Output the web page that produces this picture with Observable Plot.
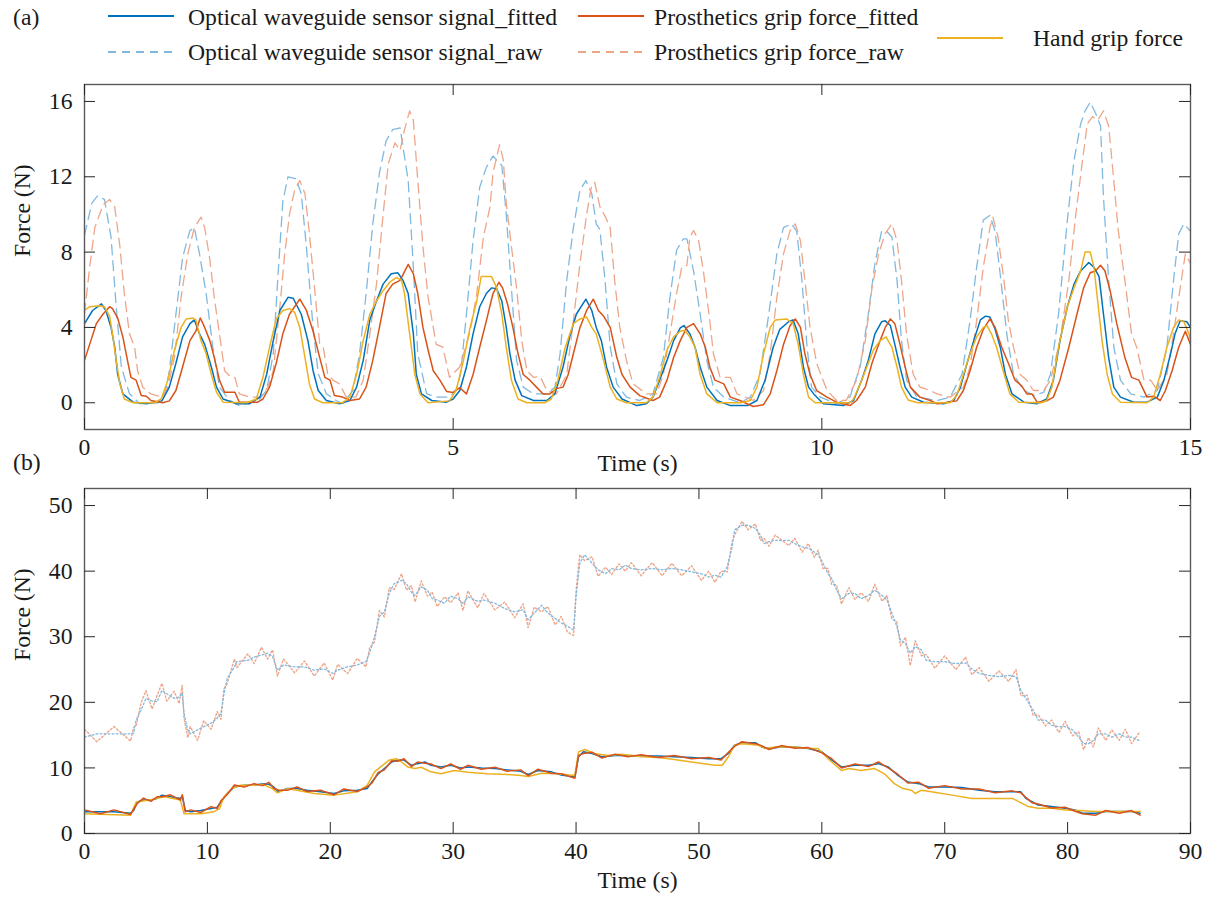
<!DOCTYPE html>
<html><head><meta charset="utf-8">
<script src="https://cdn.jsdelivr.net/npm/d3@7"></script>
<script src="https://cdn.jsdelivr.net/npm/@observablehq/plot@0.6"></script>
<style>
body{margin:0;background:#fff;}
#root{position:relative;width:1205px;height:902px;font-family:"Liberation Serif","Times New Roman",serif;color:#1a1a1a;overflow:hidden;background:#fff}
.t{position:absolute;font-size:23.7px;line-height:1;white-space:nowrap;transform:translateY(-50%)}
.sw{position:absolute;transform:translateY(-50%)}
.panel{position:absolute;left:0}
</style></head><body><div id="root"></div>
<script>
// ---------- Panel (a): 0-15 s, [time, force] ----------
const aBlueRaw = [[0,8.9],[0.1,10.6],[0.18,11.0],[0.27,10.8],[0.36,8.8],[0.43,5.1],[0.5,1.9],[0.61,0.48],[0.75,-0.05],[1.0,0.0],[1.1,0.6],[1.15,1.7],[1.24,4.7],[1.33,7.7],[1.43,9.15],[1.49,9.3],[1.56,7.9],[1.65,5.8],[1.74,2.95],[1.83,0.83],[1.97,0.12],[2.1,-0.15],[2.35,0.1],[2.47,0.65],[2.56,2.6],[2.62,6.5],[2.69,10.7],[2.76,12.0],[2.87,11.9],[2.94,11.1],[3.01,8.26],[3.1,4.0],[3.17,1.54],[3.28,0.48],[3.41,0.12],[3.5,-0.05],[3.64,0.65],[3.73,2.6],[3.82,5.8],[3.91,9.5],[4.0,12.2],[4.09,13.9],[4.18,14.5],[4.28,14.6],[4.39,11.8],[4.46,7.2],[4.52,2.6],[4.64,0.48],[4.77,0.3],[4.95,0.3],[5.04,0.7],[5.1,1.5],[5.18,4.7],[5.27,8.6],[5.36,11.45],[5.45,12.5],[5.54,13.1],[5.66,12.6],[5.72,10.0],[5.79,6.1],[5.86,2.25],[5.95,0.83],[6.09,0.47],[6.27,0.47],[6.38,0.83],[6.45,2.6],[6.54,6.5],[6.63,9.3],[6.72,11.3],[6.8,11.8],[6.88,11.1],[6.94,9.5],[6.99,9.2],[7.06,6.5],[7.13,2.95],[7.22,1.0],[7.35,0.3],[7.53,0.12],[7.71,0.47],[7.85,2.4],[7.94,5.6],[8.03,8.1],[8.12,8.7],[8.17,8.7],[8.26,7.0],[8.35,4.7],[8.44,2.25],[8.53,0.83],[8.67,0.3],[8.89,0.0],[9.03,0.3],[9.16,1.5],[9.28,4.7],[9.39,7.9],[9.48,9.3],[9.59,9.5],[9.66,9.1],[9.73,6.5],[9.8,2.95],[9.86,0.83],[9.98,0.3],[10.2,-0.05],[10.38,0.3],[10.52,1.9],[10.63,4.7],[10.72,7.4],[10.81,9.1],[10.88,9.1],[10.95,8.8],[11.02,6.5],[11.08,3.3],[11.15,1.2],[11.29,0.3],[11.56,0.12],[11.74,0.3],[11.9,1.5],[12.01,4.35],[12.1,7.2],[12.19,9.7],[12.28,9.95],[12.35,9.1],[12.42,6.8],[12.51,3.6],[12.6,1.5],[12.74,0.65],[12.88,0.38],[13.01,0.56],[13.1,1.5],[13.21,4.7],[13.33,9.7],[13.42,12.87],[13.51,14.8],[13.57,15.5],[13.64,15.96],[13.71,15.4],[13.78,14.7],[13.82,10.9],[13.89,6.5],[13.96,2.95],[14.05,1.2],[14.19,0.47],[14.37,0.3],[14.55,0.65],[14.68,2.95],[14.77,6.5],[14.84,8.97],[14.91,9.5],[15,9.1]];
const aRedRaw = [[0,4.73],[0.07,7.2],[0.14,9.3],[0.25,10.5],[0.34,10.8],[0.41,10.4],[0.48,8.3],[0.54,5.8],[0.61,3.66],[0.68,2.95],[0.72,1.7],[0.79,0.83],[0.9,0.47],[1.05,0.3],[1.13,0.83],[1.22,2.4],[1.31,5.6],[1.4,7.9],[1.49,9.3],[1.58,9.86],[1.63,9.3],[1.7,7.6],[1.76,5.6],[1.83,3.66],[1.9,1.7],[1.99,1.35],[2.04,1.35],[2.1,0.47],[2.24,0.3],[2.38,0.3],[2.49,0.83],[2.56,1.7],[2.65,5.1],[2.71,7.7],[2.78,10.0],[2.85,11.3],[2.92,11.8],[2.99,11.1],[3.05,9.0],[3.12,6.1],[3.19,3.1],[3.24,2.9],[3.3,1.5],[3.37,1.2],[3.46,1.0],[3.55,0.3],[3.68,0.3],[3.78,1.2],[3.87,3.66],[3.96,6.3],[4.05,10.0],[4.12,12.7],[4.21,13.8],[4.28,13.4],[4.34,14.5],[4.41,15.5],[4.46,15.0],[4.52,11.8],[4.59,8.3],[4.66,5.6],[4.77,3.1],[4.86,2.95],[4.95,1.35],[5.09,1.9],[5.23,3.8],[5.32,5.8],[5.41,8.8],[5.5,10.4],[5.54,12.2],[5.63,13.7],[5.68,12.9],[5.72,10.6],[5.79,8.3],[5.86,6.1],[5.93,3.3],[6.0,1.7],[6.09,1.35],[6.18,1.4],[6.27,0.65],[6.4,0.47],[6.54,1.5],[6.63,4.35],[6.72,7.4],[6.81,10.0],[6.88,11.6],[6.92,11.7],[6.99,10.4],[7.06,9.9],[7.13,9.3],[7.19,6.5],[7.26,4.0],[7.35,2.25],[7.44,1.0],[7.62,0.47],[7.76,0.47],[7.85,1.5],[7.94,3.66],[8.03,5.8],[8.1,7.2],[8.17,7.3],[8.21,8.8],[8.26,9.15],[8.33,8.6],[8.4,6.8],[8.47,4.7],[8.53,2.6],[8.62,1.35],[8.76,1.35],[8.85,0.47],[9.07,0.12],[9.21,0.65],[9.3,2.6],[9.39,5.6],[9.48,7.9],[9.57,9.15],[9.64,9.5],[9.71,8.6],[9.77,6.5],[9.84,4.0],[9.93,2.1],[10.07,0.65],[10.2,0.12],[10.33,0.12],[10.47,1.2],[10.59,3.3],[10.68,6.1],[10.77,7.9],[10.86,9.0],[10.95,9.5],[11.02,8.6],[11.08,6.5],[11.15,3.6],[11.24,1.5],[11.33,0.83],[11.47,0.65],[11.56,0.47],[11.74,0.3],[11.92,0.83],[12.01,1.9],[12.1,4.35],[12.19,7.2],[12.28,9.3],[12.32,9.86],[12.39,8.8],[12.47,6.5],[12.53,4.35],[12.6,2.95],[12.69,1.5],[12.78,1.2],[12.87,0.65],[13.01,0.65],[13.1,1.2],[13.23,3.3],[13.35,6.5],[13.44,9.86],[13.53,12.7],[13.6,14.8],[13.67,15.2],[13.74,15.0],[13.82,15.5],[13.89,14.7],[13.96,11.8],[14.02,9.15],[14.11,6.5],[14.2,3.66],[14.27,2.95],[14.37,1.2],[14.46,1.2],[14.55,0.65],[14.68,1.5],[14.77,3.66],[14.86,6.1],[14.93,7.9],[15,7.4]];
const aBlueFit = [[0,4.2],[0.11,4.9],[0.23,5.25],[0.29,4.9],[0.36,4.0],[0.41,2.95],[0.45,1.5],[0.52,0.47],[0.66,0.03],[0.84,-0.05],[1.05,0.1],[1.15,0.83],[1.24,2.1],[1.33,3.5],[1.43,4.2],[1.49,4.4],[1.56,3.66],[1.63,3.1],[1.72,1.9],[1.79,0.83],[1.88,0.2],[2.06,-0.05],[2.24,-0.05],[2.38,0.3],[2.47,1.5],[2.56,3.3],[2.65,4.9],[2.76,5.6],[2.83,5.55],[2.94,4.7],[3.03,3.3],[3.1,1.7],[3.17,0.65],[3.28,0.12],[3.46,-0.05],[3.6,0.12],[3.69,0.83],[3.78,2.25],[3.87,4.4],[3.96,5.4],[4.05,6.3],[4.16,6.85],[4.25,6.9],[4.32,6.5],[4.39,5.8],[4.46,3.66],[4.5,1.5],[4.57,0.47],[4.71,0.12],[4.91,0.03],[5.0,0.2],[5.09,0.65],[5.18,1.9],[5.27,3.66],[5.36,5.1],[5.45,5.8],[5.52,6.1],[5.59,6.05],[5.66,5.4],[5.72,4.0],[5.77,2.6],[5.84,1.2],[5.93,0.38],[6.09,0.12],[6.27,0.12],[6.38,0.47],[6.49,1.9],[6.58,3.5],[6.67,4.7],[6.8,5.5],[6.88,4.9],[6.94,4.0],[7.01,3.3],[7.08,1.9],[7.17,0.83],[7.29,0.2],[7.49,-0.15],[7.62,-0.05],[7.71,0.3],[7.8,1.2],[7.9,2.25],[7.99,3.3],[8.08,3.98],[8.13,4.1],[8.21,3.66],[8.28,2.95],[8.35,1.9],[8.44,0.83],[8.58,0.12],[8.76,-0.15],[8.99,-0.15],[9.12,0.12],[9.23,1.2],[9.34,2.95],[9.43,3.9],[9.55,4.3],[9.61,4.4],[9.68,3.66],[9.75,1.9],[9.82,0.83],[9.89,0.47],[10.02,-0.05],[10.29,-0.15],[10.43,0.12],[10.54,1.2],[10.63,2.25],[10.72,3.66],[10.81,4.3],[10.86,4.35],[10.93,4.1],[10.99,3.1],[11.06,1.9],[11.13,0.83],[11.22,0.3],[11.38,0.03],[11.65,-0.05],[11.79,0.12],[11.88,0.83],[11.97,2.1],[12.06,3.3],[12.15,4.4],[12.22,4.6],[12.28,4.55],[12.35,3.9],[12.42,2.95],[12.49,1.5],[12.58,0.47],[12.74,0.03],[12.92,-0.05],[13.05,0.2],[13.14,1.2],[13.23,3.3],[13.33,5.1],[13.42,6.3],[13.51,7.0],[13.62,7.45],[13.69,7.2],[13.76,6.7],[13.82,4.7],[13.89,2.4],[13.96,0.83],[14.05,0.3],[14.23,0.03],[14.41,0.03],[14.55,0.3],[14.64,1.2],[14.73,2.6],[14.79,3.66],[14.86,4.35],[14.95,4.3],[15,4.0]];
const aRedFit = [[0,2.25],[0.07,3.1],[0.16,4.2],[0.25,4.7],[0.34,5.1],[0.38,5.0],[0.45,4.5],[0.52,3.5],[0.59,2.1],[0.63,1.35],[0.7,1.2],[0.77,0.38],[0.84,0.35],[0.9,0.12],[1.06,0.0],[1.15,0.1],[1.24,0.65],[1.33,1.9],[1.43,3.3],[1.51,3.8],[1.57,4.5],[1.63,4.0],[1.7,3.3],[1.76,2.4],[1.83,1.2],[1.9,0.56],[2.04,0.56],[2.1,0.03],[2.35,0.03],[2.42,0.2],[2.51,0.83],[2.6,2.1],[2.69,3.66],[2.78,4.7],[2.92,5.5],[3.01,4.9],[3.1,3.8],[3.19,2.4],[3.26,1.35],[3.33,1.2],[3.39,0.38],[3.5,0.3],[3.6,0.12],[3.73,0.2],[3.82,0.83],[3.91,2.25],[4.0,4.0],[4.09,5.8],[4.18,6.3],[4.28,6.5],[4.39,7.35],[4.46,6.85],[4.52,5.8],[4.59,4.0],[4.66,2.8],[4.73,1.7],[4.82,1.2],[4.91,0.6],[5.0,0.55],[5.09,0.8],[5.18,0.47],[5.27,1.5],[5.36,2.95],[5.45,4.35],[5.54,5.8],[5.62,6.4],[5.67,6.1],[5.74,5.2],[5.81,4.0],[5.88,2.6],[5.95,1.5],[6.04,1.2],[6.13,0.83],[6.22,0.47],[6.31,0.47],[6.4,0.75],[6.49,0.83],[6.56,1.5],[6.63,2.6],[6.72,4.0],[6.81,4.9],[6.9,5.5],[6.97,4.9],[7.04,4.6],[7.13,4.0],[7.22,2.4],[7.29,1.5],[7.4,0.83],[7.53,0.38],[7.71,0.12],[7.8,0.3],[7.9,1.2],[7.99,2.4],[8.08,3.3],[8.17,4.0],[8.26,4.2],[8.35,3.66],[8.42,2.95],[8.48,1.9],[8.55,1.2],[8.67,1.0],[8.76,0.3],[8.89,0.12],[9.07,-0.2],[9.21,-0.1],[9.3,0.47],[9.39,1.7],[9.48,3.1],[9.57,4.1],[9.64,4.45],[9.71,4.0],[9.77,2.6],[9.84,1.5],[9.93,0.65],[10.07,0.3],[10.2,0.03],[10.38,-0.15],[10.47,0.12],[10.59,0.83],[10.68,2.1],[10.77,3.1],[10.86,4.0],[10.93,4.45],[10.99,4.2],[11.06,3.1],[11.13,1.9],[11.2,0.83],[11.33,0.3],[11.47,0.12],[11.56,-0.05],[11.83,0.1],[11.92,0.65],[12.01,1.7],[12.1,2.95],[12.19,3.9],[12.28,4.45],[12.35,4.0],[12.44,2.95],[12.53,2.1],[12.62,1.2],[12.71,0.9],[12.78,0.47],[12.85,0.47],[12.92,0.03],[13.05,0.1],[13.14,0.3],[13.23,1.2],[13.35,2.95],[13.46,4.7],[13.55,6.1],[13.64,6.9],[13.71,7.0],[13.78,7.3],[13.84,7.0],[13.91,5.95],[14.0,4.2],[14.11,2.4],[14.2,1.35],[14.3,1.2],[14.41,0.3],[14.5,0.35],[14.59,0.12],[14.66,0.65],[14.75,1.7],[14.84,2.95],[14.93,3.8],[15,3.1]];
const aHand = [[0,4.9],[0.07,5.1],[0.2,5.15],[0.27,5.1],[0.34,4.6],[0.38,3.66],[0.43,2.25],[0.48,1.0],[0.54,0.2],[0.66,0.0],[0.95,0.0],[1.04,0.2],[1.13,1.2],[1.22,2.8],[1.31,4.0],[1.38,4.45],[1.47,4.5],[1.51,4.4],[1.58,3.3],[1.65,2.6],[1.72,1.5],[1.79,0.56],[1.88,0.03],[2.2,0.0],[2.33,0.2],[2.42,1.35],[2.51,2.95],[2.6,4.45],[2.69,4.9],[2.78,5.0],[2.85,4.8],[2.92,4.0],[2.99,2.4],[3.05,1.0],[3.12,0.2],[3.23,0.0],[3.5,0.0],[3.6,0.3],[3.69,1.5],[3.78,3.3],[3.87,4.7],[3.96,5.4],[4.05,5.95],[4.14,6.4],[4.23,6.65],[4.3,6.5],[4.34,5.8],[4.41,3.66],[4.48,1.5],[4.55,0.47],[4.66,0.0],[4.95,0.1],[5.04,0.65],[5.14,2.25],[5.23,4.0],[5.32,5.4],[5.38,6.7],[5.52,6.7],[5.59,6.1],[5.66,4.7],[5.72,2.95],[5.79,1.2],[5.88,0.2],[6.0,0.0],[6.24,0.0],[6.33,0.2],[6.42,1.2],[6.52,2.95],[6.63,4.2],[6.72,4.45],[6.81,4.55],[6.88,4.0],[6.94,3.66],[7.04,2.25],[7.13,0.83],[7.22,0.2],[7.35,0.0],[7.62,0.0],[7.71,0.3],[7.8,1.35],[7.9,2.8],[7.99,3.5],[8.08,3.8],[8.14,3.85],[8.21,3.5],[8.28,2.95],[8.35,1.5],[8.44,0.47],[8.58,0.0],[8.9,0.0],[9.03,0.12],[9.12,0.83],[9.21,2.6],[9.3,4.0],[9.37,4.4],[9.52,4.45],[9.61,4.2],[9.68,3.1],[9.75,1.5],[9.82,0.3],[9.91,0.0],[10.38,0.0],[10.43,0.2],[10.52,1.0],[10.61,1.9],[10.7,2.8],[10.79,3.3],[10.87,3.5],[10.95,2.95],[11.02,1.9],[11.08,0.83],[11.17,0.15],[11.3,0.0],[11.74,0.0],[11.83,0.38],[11.92,1.5],[12.01,2.6],[12.1,3.5],[12.19,4.0],[12.24,4.1],[12.3,3.66],[12.37,2.95],[12.46,1.7],[12.55,0.47],[12.67,0.03],[12.98,0.0],[13.05,0.12],[13.12,0.83],[13.21,2.95],[13.33,5.1],[13.42,6.1],[13.51,7.0],[13.57,8.0],[13.64,8.0],[13.69,7.2],[13.73,5.8],[13.8,3.3],[13.87,1.5],[13.94,0.47],[14.05,0.03],[14.41,0.0],[14.5,0.3],[14.59,1.5],[14.68,2.95],[14.77,4.0],[14.84,4.4],[14.91,4.3],[14.98,3.66],[15,3.3]];
const aXTicks = [0, 5, 10, 15];
const aYTicks = [0, 4, 8, 12, 16];

// ---------- Panel (b): 0-86 s ----------
const bRawT = [0,1.0,2.4,3.75,4.0,4.2,4.6,5.0,5.5,5.9,6.3,6.7,7.3,7.7,7.95,8.1,8.4,8.6,9.2,9.7,10.3,10.8,11.1,11.35,11.6,12.2,12.4,13.3,13.8,14.4,14.9,15.3,15.7,16.2,17.1,17.9,18.7,19.5,20.2,20.6,21.4,22.2,22.9,23.2,23.6,24.0,24.4,24.8,25.2,25.8,26.2,26.6,26.9,27.4,27.9,28.3,28.7,29.3,29.8,30.4,30.8,31.2,32.0,32.5,33.4,34.2,35.0,35.7,36.1,36.6,37.2,37.7,38.3,38.8,39.3,39.8,40.0,40.3,40.7,41.3,41.8,42.4,42.9,43.5,44.0,44.5,45.3,46.2,47.0,47.8,48.6,49.4,50.2,50.8,51.3,51.8,52.3,52.7,52.9,53.5,54.0,54.6,55.0,55.3,55.7,56.2,57.3,57.8,58.4,58.9,59.4,59.7,60.1,60.5,60.8,61.2,61.6,62.2,62.7,63.2,63.8,64.3,64.9,65.3,65.7,66.1,66.4,66.8,67.2,67.6,68.1,68.5,69.2,70.0,70.9,71.7,72.2,72.8,73.6,74.4,75.2,75.8,76.2,76.7,77.2,77.6,78.2,78.7,79.3,79.8,80.4,80.9,81.3,81.7,82.1,82.5,83.1,83.6,84.2,84.7,85.2,85.8];
const bBlueRaw = [14.7,15.2,15.2,15.2,15.3,17.3,18.8,20.6,20.2,20.1,21.8,21.3,20.6,20.8,21.4,18.3,15.8,15.2,15.8,16.3,16.8,17.6,18.3,21.3,23.6,25.4,26.2,26.4,26.9,27.2,27.5,27.0,24.9,25.7,25.4,25.4,24.9,25.1,24.4,24.9,25.4,25.7,26.2,27.5,30.0,33.1,33.8,36.6,38.1,38.6,38.1,36.8,36.3,37.6,37.1,35.8,35.6,35.1,36.2,35.8,35.0,36.1,35.4,35.6,35.1,34.3,33.8,34.1,32.6,33.6,34.8,33.6,32.8,32.1,31.6,31.0,36.1,41.2,42.5,41.2,40.2,39.6,40.4,40.2,40.9,40.4,40.2,40.4,40.2,40.4,40.2,39.9,39.6,39.1,39.4,39.1,40.7,43.7,46.3,47.0,47.0,46.5,45.5,44.2,44.5,44.7,44.7,44.2,43.7,43.5,42.9,42.5,41.2,39.6,38.9,37.1,35.8,36.6,36.6,35.8,36.3,37.1,36.3,35.6,33.6,31.6,29.5,29.0,27.5,28.5,28.0,26.4,26.2,26.2,25.9,26.0,25.1,24.4,24.1,23.9,24.1,23.9,21.8,20.3,18.8,17.3,17.3,16.5,16.3,16.3,15.8,14.7,13.7,13.7,14.2,15.2,15.2,14.7,15.2,14.7,14.7,14.2];
const bRedRaw = [15.9,14.0,16.3,14.1,16.2,16.4,19.9,21.8,19.0,21.0,22.9,20.2,21.7,19.8,22.6,17.6,14.6,16.3,14.2,17.2,15.9,18.6,17.4,22.1,22.8,26.6,25.3,27.4,25.9,28.4,26.6,28.0,24.0,26.6,24.5,26.3,24.0,26.0,23.4,25.8,24.4,26.7,25.4,28.3,29.2,34.0,33.0,37.5,37.2,39.6,37.1,37.8,35.3,38.5,36.2,36.8,34.6,36.1,35.2,36.7,34.0,37.0,34.4,36.6,34.1,35.3,32.9,35.0,31.4,34.5,33.8,34.6,31.8,33.1,30.7,30.2,37.0,42.5,41.6,42.2,39.2,40.6,39.5,41.1,40.0,41.3,39.3,41.3,39.3,41.2,39.3,40.8,38.6,40.0,38.3,40.0,39.9,44.5,45.5,47.6,46.3,47.2,44.7,45.0,43.8,45.5,43.9,45.0,42.9,44.2,42.1,43.2,40.4,40.4,38.0,37.9,35.0,37.5,35.7,36.7,35.4,38.0,35.4,36.3,32.7,32.3,28.6,29.9,25.6,29.4,27.1,27.3,25.2,27.1,25.0,26.9,24.2,25.3,23.2,24.8,23.2,25.0,21.0,21.1,18.0,18.1,16.4,17.3,15.4,17.1,14.9,15.5,12.8,14.6,13.2,16.1,14.2,15.8,14.2,15.9,13.7,15.3];
const bFitT = [0,1.3,2.4,3.75,4.0,4.3,4.8,5.4,5.9,6.3,7.0,7.8,7.96,8.2,8.64,9.45,10.3,10.8,11.1,11.6,12.2,13.0,13.8,14.5,15.0,15.4,15.8,16.5,17.3,18.1,19.2,20.3,21.1,22.2,23.0,23.4,23.9,24.4,25.0,25.5,26.0,26.6,27.1,27.7,28.2,29.0,29.8,30.6,31.2,32.3,33.4,34.4,35.5,36.1,36.9,38.0,38.8,39.9,40.2,40.6,41.3,42.1,43.2,44.2,45.3,46.7,48.0,49.4,50.8,51.8,52.4,52.9,53.5,54.6,55.1,55.7,56.7,57.8,58.9,60.0,60.8,61.6,62.7,63.8,64.6,65.4,66.2,67.0,67.9,68.7,70.0,71.4,72.8,74.1,75.5,76.2,76.6,77.1,77.6,78.7,79.8,80.6,81.2,82.3,83.1,84.2,85.2,85.9];
const bBlueFit = [3.3,3.3,3.3,3.1,3.5,4.8,5.1,5.1,5.35,5.85,5.6,5.35,5.7,3.5,3.3,3.5,3.8,4.0,4.8,6.1,7.1,7.35,7.35,7.6,7.5,7.1,6.35,6.85,6.85,6.6,6.35,6.1,6.5,6.6,6.85,7.9,9.1,9.9,10.9,11.2,11.2,10.4,10.65,10.9,10.4,10.15,10.4,10.0,10.15,10.0,9.9,9.7,9.5,9.0,9.6,9.4,8.9,8.6,11.7,12.45,12.2,11.7,11.9,11.9,11.8,11.8,11.7,11.6,11.4,11.4,12.2,13.45,13.85,13.85,13.2,12.95,13.2,13.2,12.95,12.45,11.2,10.15,10.4,10.4,10.65,10.15,8.85,7.85,7.6,7.1,7.1,7.0,6.6,6.35,6.35,6.35,5.35,4.85,4.35,4.1,3.85,3.6,3.1,3.1,3.35,3.35,3.35,3.1];
const bRedFit = [3.6,3.0,3.6,2.9,3.7,4.6,5.4,4.9,5.6,5.6,5.9,5.1,5.9,3.3,3.6,3.2,4.1,3.8,5.0,5.9,7.4,7.1,7.6,7.3,7.8,6.9,6.6,6.6,7.1,6.4,6.6,5.9,6.8,6.4,7.1,7.7,9.3,9.7,11.1,11.0,11.4,10.2,10.9,10.7,10.6,9.9,10.6,9.8,10.4,9.8,10.1,9.5,9.7,8.8,9.8,9.2,9.1,8.4,11.9,12.2,12.4,11.5,12.1,11.7,12.0,11.6,11.9,11.4,11.6,11.2,12.4,13.3,14.0,13.7,13.4,12.8,13.4,13.0,13.1,12.3,11.4,10.0,10.6,10.2,10.9,10.0,9.0,7.7,7.8,6.9,7.3,6.8,6.8,6.2,6.5,6.2,5.5,4.7,4.5,3.9,4.0,3.4,3.0,2.8,3.5,3.1,3.5,2.8];
const bHandT = [0,3.75,4.2,5.3,6.5,7.8,8.1,9.5,10.5,11.0,11.35,12.0,12.7,13.8,14.5,15.3,15.7,16.5,18.7,20.3,22.2,23.0,23.6,24.1,24.8,25.4,25.8,26.3,26.9,27.4,28.2,29.0,30.1,31.2,32.8,34.4,35.5,36.1,37.2,38.5,39.9,40.2,40.7,41.5,42.6,43.7,45.3,46.7,48.0,49.4,51.3,51.9,52.4,52.9,53.5,54.9,55.4,56.2,57.8,58.9,59.7,60.5,61.6,62.2,63.2,64.3,65.1,65.9,66.6,67.3,67.6,68.1,68.9,70.6,72.2,73.8,75.5,76.3,76.8,77.6,78.7,79.8,80.9,82.3,83.6,85.9];
const bHand = [3.0,2.8,4.8,5.1,5.6,5.1,3.0,3.0,3.3,3.8,5.6,6.85,7.35,7.35,7.5,6.85,6.2,6.85,6.1,5.85,6.35,7.35,9.4,10.15,11.2,11.4,10.9,10.15,9.9,10.1,9.4,9.1,9.6,9.35,9.1,9.0,8.85,8.7,9.2,9.1,8.85,12.45,12.8,12.2,11.9,12.1,11.7,11.6,11.3,10.9,10.4,10.4,11.7,13.45,13.7,13.45,12.95,13.2,13.2,13.0,12.95,11.4,9.6,9.9,9.6,9.9,9.1,7.6,6.85,6.6,6.1,6.6,6.35,5.85,5.35,5.35,5.35,4.6,4.1,3.85,3.85,3.6,3.5,3.35,3.35,3.35];
const bXTicks = [0, 10, 20, 30, 40, 50, 60, 70, 80, 90];
const bYTicks = [0, 10, 20, 30, 40, 50];

const seriesNames = ["Optical waveguide sensor signal_fitted", "Optical waveguide sensor signal_raw", "Prosthetics grip force_fitted", "Prosthetics grip force_raw", "Hand grip force"];

// ---------- styling ----------
const C = {blue: "#0072BD", blueRaw: "#80B9E0", red: "#D95319", redRaw: "#EDA68A", yellow: "#EDB120"};
const FONT = '"Liberation Serif", "Times New Roman", serif';
const FS = 23.7;
const W = 1205, ML = 84, MR = 15, FW = W - ML - MR, FH = 345, TK = 11;

const pairs = (t, v) => t.map((x, i) => [x, v[i]]);

function panel({top, height, mt, mb, xDomain, yDomain, xTicks, yTicks, series, xLabelDy}) {
  const lineMarks = series.map(s => Plot.line(s.data, {x: d => d[0], y: d => d[1], stroke: s.color, strokeWidth: s.w, strokeDasharray: s.dash, clip: true}));
  const svg = Plot.plot({
    width: W, height,
    marginLeft: ML, marginRight: MR, marginTop: mt, marginBottom: mb,
    style: {fontFamily: FONT, fontSize: FS + "px", background: "transparent", color: "#1a1a1a", overflow: "visible"},
    x: {domain: xDomain},
    y: {domain: yDomain},
    marks: [
      ...lineMarks,
      Plot.frame({stroke: "#5a5a5a", strokeWidth: 1.4}),
      Plot.ruleY(yTicks, {y: d => d, insetRight: FW - TK, stroke: "#262626", strokeWidth: 1}),
      Plot.ruleY(yTicks, {y: d => d, insetLeft: FW - TK, stroke: "#262626", strokeWidth: 1}),
      Plot.ruleX(xTicks, {x: d => d, insetTop: FH - TK, stroke: "#262626", strokeWidth: 1}),
      Plot.ruleX(xTicks, {x: d => d, insetBottom: FH - TK, stroke: "#262626", strokeWidth: 1}),
      Plot.axisX(xTicks, {tickSize: 0, tickPadding: 9, label: null, fontSize: FS, fontFamily: FONT}),
      Plot.axisY(yTicks, {tickSize: 0, tickPadding: 12, label: null, fontSize: FS, fontFamily: FONT}),
      Plot.text(["Time (s)"], {frameAnchor: "bottom", dy: xLabelDy, fontSize: FS, fontFamily: FONT, fill: "#1a1a1a"}),
      Plot.text(["Force (N)"], {frameAnchor: "left", dx: -62, rotate: -90, fontSize: FS, fontFamily: FONT, fill: "#1a1a1a"})
    ]
  });
  svg.classList.add("panel");
  svg.style.top = top + "px";
  return svg;
}

const root = document.getElementById("root");

root.appendChild(panel({
  top: 70, height: 420, mt: 14, mb: 61,
  xDomain: [0, 15], yDomain: [-1.42, 16.9], xTicks: aXTicks, yTicks: aYTicks, xLabelDy: 41,
  series: [
    {data: aBlueRaw, color: C.blueRaw, w: 1.3, dash: "10,6"},
    {data: aRedRaw, color: C.redRaw, w: 1.3, dash: "10,6"},
    {data: aBlueFit, color: C.blue, w: 1.5},
    {data: aRedFit, color: C.red, w: 1.5},
    {data: aHand, color: C.yellow, w: 1.5}
  ]
}));

root.appendChild(panel({
  top: 475, height: 427, mt: 13, mb: 69,
  xDomain: [0, 90], yDomain: [0, 52.6], xTicks: bXTicks, yTicks: bYTicks, xLabelDy: 54,
  series: [
    {data: pairs(bRawT, bRedRaw), color: C.redRaw, w: 1.4, dash: "1.8,2.2"},
    {data: pairs(bRawT, bBlueRaw), color: C.blueRaw, w: 1.3, dash: "1.8,2.2"},
    {data: pairs(bFitT, bBlueFit), color: C.blue, w: 1.5},
    {data: pairs(bHandT, bHand), color: C.yellow, w: 1.5},
    {data: pairs(bFitT, bRedFit), color: C.red, w: 1.5}
  ]
}));

// ---------- legend & panel tags (HTML, above the plots) ----------
function addText(txt, x, y) {
  const d = document.createElement("div");
  d.className = "t"; d.textContent = txt;
  d.style.left = x + "px"; d.style.top = y + "px";
  root.appendChild(d);
}
function addSwatch(x, y, color, dash) {
  const ns = "http://www.w3.org/2000/svg";
  const s = document.createElementNS(ns, "svg");
  s.setAttribute("width", 66); s.setAttribute("height", 6);
  s.setAttribute("class", "sw");
  s.style.left = x + "px"; s.style.top = y + "px";
  const l = document.createElementNS(ns, "line");
  l.setAttribute("x1", 0); l.setAttribute("x2", 66); l.setAttribute("y1", 3); l.setAttribute("y2", 3);
  l.setAttribute("stroke", color); l.setAttribute("stroke-width", 2.2);
  if (dash) l.setAttribute("stroke-dasharray", dash);
  s.appendChild(l);
  root.appendChild(s);
}
addText("(a)", 13, 18);
addText("(b)", 13, 463);
addSwatch(108, 16, C.blue);            addText(seriesNames[0], 188, 18);
addSwatch(108, 52, C.blueRaw, "8,6");  addText(seriesNames[1], 188, 53);
addSwatch(578, 16, C.red);             addText(seriesNames[2], 654, 18);
addSwatch(578, 52, C.redRaw, "8,6");   addText(seriesNames[3], 654, 53);
addSwatch(937, 38, C.yellow);          addText(seriesNames[4], 1033, 39);
</script>
</body></html>
